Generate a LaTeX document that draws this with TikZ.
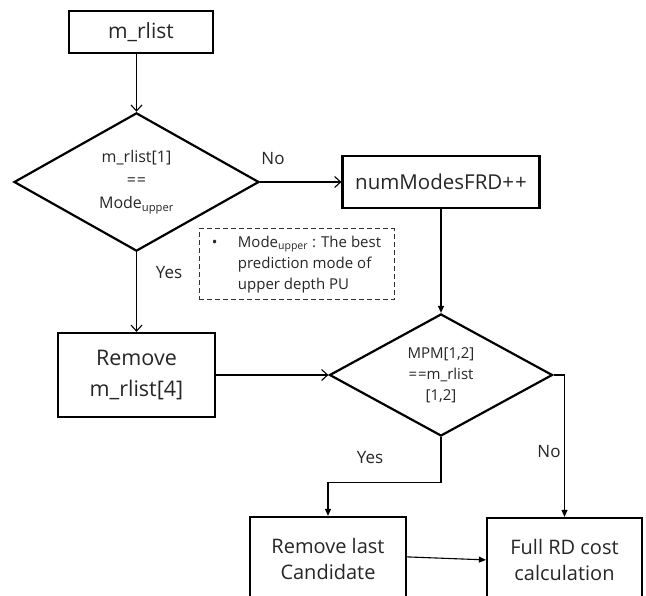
\documentclass[tikz,border=0pt]{standalone}
\usepackage{fontspec}
\setmainfont{Open Sans}
\usetikzlibrary{shapes.geometric,arrows.meta,calc}
\begin{document}
\begin{tikzpicture}[x=1pt,y=-1pt,
  every node/.style={text=black!85},
  box/.style={draw=black,line width=2.2pt,rectangle,inner sep=0pt,align=center},
  dia/.style={draw=black,line width=2.2pt,diamond,inner sep=0pt,align=center},
  ln/.style={line width=1.1pt},
  arO/.style={ln,-{Straight Barb[length=6pt,width=11pt,line width=1.1pt]}},
  arF/.style={ln,-{Triangle[length=7pt,width=6pt]}},
  lbl/.style={font=\fontsize{17}{20}\selectfont}]
\clip (0,0) rectangle (646,596);
\fill[white] (0,0) rectangle (646,596);
% nodes
\node[box,minimum width=144pt,minimum height=42pt,font=\fontsize{21}{25}\selectfont] (top) at (141,32) {m\_rlist};
\node[dia,minimum width=245pt,minimum height=130pt,font=\fontsize{16}{23}\selectfont] (d1) at (136.5,182) {m\_rlist[1]\\=\kern1pt=\\Mode\textsubscript{upper}};
\node[box,minimum width=197pt,minimum height=52pt,font=\fontsize{20.5}{25}\selectfont] (nm) at (441,182) {numModesFRD+\kern1pt+};
\node[draw=black!80,dash pattern=on 5pt off 3pt,line width=1pt,minimum width=195pt,minimum height=71pt,inner sep=0pt,font=\fontsize{15}{21}\selectfont] (note) at (296.5,264.5)
  {\begin{tabular}{@{}p{14pt}@{\hspace{12pt}}l@{}}
   • & Mode\textsubscript{upper} : The best\\
     & prediction mode of\\
     & upper depth PU
   \end{tabular}};
\node[box,minimum width=157pt,minimum height=84pt,font=\fontsize{21.5}{31}\selectfont] (rm) at (136.5,375) {Remove\\m\_rlist[4]};
\node[dia,minimum width=223pt,minimum height=105pt,font=\fontsize{15}{21}\selectfont] (d2) at (441,375) {MPM[1,2]\\=\kern1pt=m\_rlist\\{}[1,2]};
\node[box,minimum width=156pt,minimum height=84pt,font=\fontsize{20}{26}\selectfont] (rl) at (328,559) {Remove last\\Candidate};
\node[box,minimum width=155pt,minimum height=84pt,font=\fontsize{20}{26}\selectfont] (fr) at (564.5,560) {Full RD cost\\calculation};
% labels
\node[lbl] (lno1) at (273,159) {No};
\node[lbl] (lyes1) at (169,273) {Yes};
\node[lbl] (lyes2) at (370,458) {Yes};
\node[lbl] (lno2) at (549,452) {No};
% connectors
\draw[arO] (d1.north |- top.south) -- (d1.north);
\draw[arO] (d1.south) -- (rm.north);
\draw[arO] (d1.east) -- (nm.west);
\draw[arF] (nm.south) -- (d2.north);
\draw[arO] (rm.east) -- (d2.west);
\draw[arF] (d2.south) -- ++(0,45) -| (rl.north);
\draw[arF] (d2.east) -| (fr.north);
\draw[arF] ([yshift=-41pt]rl.north east) -- ([yshift=-43pt]fr.north west);
\end{tikzpicture}
\end{document}
